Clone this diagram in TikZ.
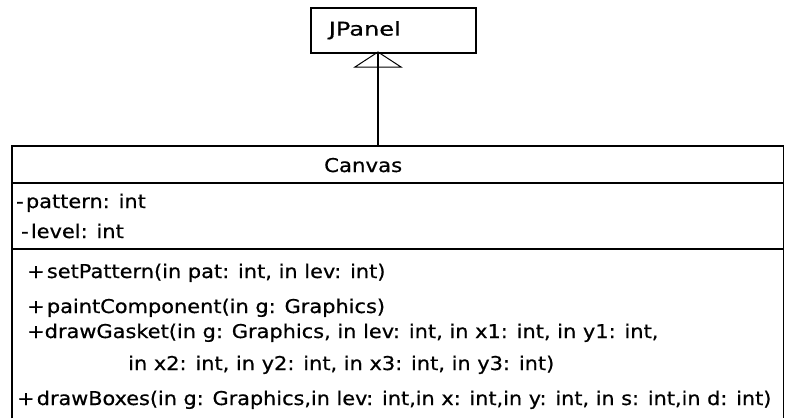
\documentclass[tikz,border=0pt]{standalone}
\usepackage{fontspec}
\setmainfont{DejaVu Sans}[BoldFont={DejaVu Sans}, BoldFeatures={FakeBold=0.6}]
\usepackage{graphicx}
\newcommand\wide[1]{\scalebox{1.1}[1]{#1}}
\tikzset{
  box/.style={draw, line width=1.6pt},
  divider/.style={draw, line width=1.6pt},
  lbl/.style={anchor=base west, inner sep=0pt, font=\fontsize{19}{19}\selectfont\bfseries},
  genline/.style={draw, line width=1.3pt},
  genhead/.style={draw, line width=1pt, line join=miter},
}
\begin{document}
\begin{tikzpicture}[x=1pt,y=-1pt]
\useasboundingbox (0,0) rectangle (785,418);
% superclass
\node[box, anchor=north west, minimum height=45pt, text width=129pt,
      inner xsep=18pt, inner ysep=0pt, align=left,
      font=\fontsize{19}{19}\selectfont\bfseries] (jpanel) at (310,7) {\resizebox{72pt}{\height}{JPanel}};
% class Canvas
\node[anchor=north west, minimum width=771pt, minimum height=272pt, inner sep=0pt] (canvas) at (12,146) {};
\draw[box] (canvas.south west) -- (canvas.north west) -- (canvas.north east) -- (canvas.south east);
\draw[divider] (12,183) -- (783,183);
\draw[divider] (12,249) -- (783,249);
\node[lbl] (cname) at (324,172) {\resizebox{78pt}{\height}{Canvas}};
\node[lbl] (a1) at (16,208) {\wide{-\kern2pt pattern: int}};
\node[lbl] (a2) at (21,238) {\wide{-\kern2pt level: int}};
\node[lbl] (m1) at (27,278) {\wide{+\kern2pt setPattern(in pat: int, in lev: int)}};
\node[lbl] (m2) at (27,313) {\wide{+\kern2pt paintComponent(in g: Graphics)}};
\node[lbl] (m3) at (27,338) {\wide{+drawGasket(in g: Graphics, in lev: int, in x1: int, in y1: int,}};
\node[lbl] (m3b) at (128,370) {\wide{in x2: int, in y2: int, in x3: int, in y3: int)}};
\node[lbl] (m4) at (17,405) {\resizebox{754pt}{\height}{+\kern2pt drawBoxes(in g: Graphics,in lev: int,in x: int,in y: int, in s: int,in d: int)}};
% generalization
\coordinate (gen) at (378,52);
\draw[genline] (canvas.north -| gen) -- (gen);
\draw[genhead] (gen) -- ++(-23,15) -- ++(46,0) -- cycle;
\end{tikzpicture}
\end{document}
